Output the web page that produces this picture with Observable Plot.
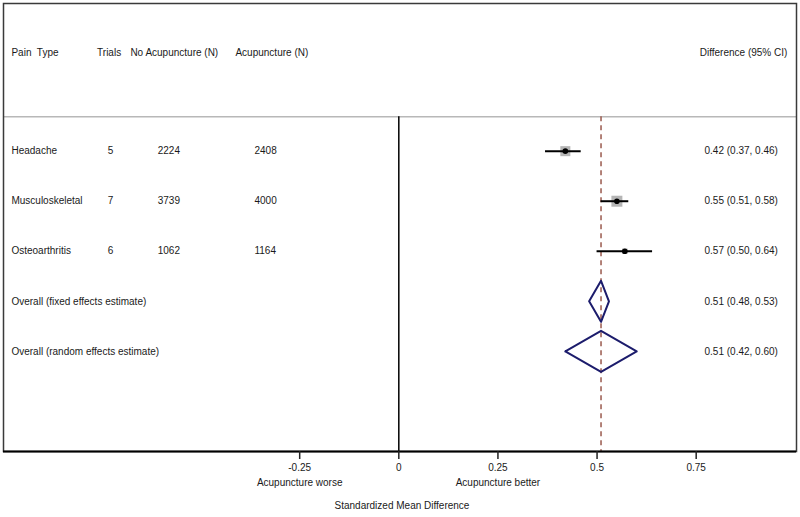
<!DOCTYPE html>
<html>
<head>
<meta charset="utf-8">
<script src="https://cdn.jsdelivr.net/npm/d3@7"></script>
<script src="https://cdn.jsdelivr.net/npm/@observablehq/plot@0.6"></script>
<style>
  html, body { margin: 0; padding: 0; background: #fff; }
  #chart svg { display: block; }
</style>
</head>
<body>
<div id="chart"></div>
<script>
// ---- data ----
const painTypes = ["Headache", "Musculoskeletal", "Osteoarthritis"];
const trials = [5, 7, 6];
const nNoAcupuncture = [2224, 3739, 1062];
const nAcupuncture = [2408, 4000, 1164];
const estimates = [0.42, 0.55, 0.57];
const lowerCI = [0.37, 0.51, 0.50];
const upperCI = [0.46, 0.58, 0.64];
const weights = [40, 48, 12];

const pooledLabels = ["Overall (fixed effects estimate)", "Overall (random effects estimate)"];
const pooledEst = [0.51, 0.51];
const pooledLower = [0.48, 0.42];
const pooledUpper = [0.53, 0.60];

const headers = ["Pain  Type", "Trials", "No Acupuncture (N)", "Acupuncture (N)", "Difference (95% CI)"];
const tickValues = [-0.25, 0, 0.25, 0.5, 0.75];
const tickLabels = ["-0.25", "0", "0.25", "0.5", "0.75"];
const sideLabels = ["Acupuncture worse", "Acupuncture better"];
const sideLabelAt = [-0.25, 0.25];
const axisTitle = "Standardized Mean Difference";
const referenceValue = 0.51;

// ---- layout constants (x in data units of the [-1, 1] frame) ----
const colPain = -0.977, colTrials = -0.734, colNo = -0.608, colAcu = -0.364, colCI = 0.771;
const hdrX = [-0.977, -0.761, -0.677, -0.412, 0.98];
const hdrAnchor = ["start", "start", "start", "start", "end"];
const headerRow = -1.97, headerLine = -0.69, bottomRow = 6;
const diamondHalf = 0.41;

const fmt = v => v.toFixed(2);
const studies = painTypes.map((p, i) => ({
  row: i, label: p, trials: trials[i], n0: nNoAcupuncture[i], n1: nAcupuncture[i],
  est: estimates[i], lo: lowerCI[i], hi: upperCI[i], w: weights[i],
  ci: `${fmt(estimates[i])} (${fmt(lowerCI[i])}, ${fmt(upperCI[i])})`
}));
const pooled = pooledLabels.map((p, i) => ({
  row: painTypes.length + i, label: p, est: pooledEst[i], lo: pooledLower[i], hi: pooledUpper[i],
  ci: `${fmt(pooledEst[i])} (${fmt(pooledLower[i])}, ${fmt(pooledUpper[i])})`
}));
const diamondPts = pooled.flatMap((d, k) => [
  {k, x: d.lo, y: d.row},
  {k, x: d.est, y: d.row - diamondHalf},
  {k, x: d.hi, y: d.row},
  {k, x: d.est, y: d.row + diamondHalf},
  {k, x: d.lo, y: d.row}
]);
const allRows = [...studies, ...pooled];
const headerData = headers.map((h, i) => ({h, x: hdrX[i], a: hdrAnchor[i]}));
const textColor = "#1a1a1a";

const chart = Plot.plot({
  width: 800,
  height: 517,
  marginLeft: 3,
  marginRight: 4,
  marginTop: 3,
  marginBottom: 66,
  x: {domain: [-0.997, 1.003]},
  y: {domain: [bottomRow, -2.95], axis: null},
  r: {type: "sqrt", domain: [0, 48], range: [0, 6.2]},
  style: {fontFamily: "'Liberation Sans', Arial, sans-serif", fontSize: "10px", background: "#fff", color: textColor},
  marks: [
    // header separator
    Plot.ruleY([headerLine], {stroke: "#b8b8b8", strokeWidth: 1.5}),
    // zero line
    Plot.ruleX([0], {y1: headerLine, y2: bottomRow, stroke: "#000", strokeWidth: 1.5}),
    // reference dashed line
    Plot.ruleX([referenceValue], {y1: headerLine, y2: bottomRow, stroke: "#9a5a4e", strokeWidth: 1.5, strokeDasharray: "5,4"}),
    // weight squares
    Plot.dot(studies, {x: "est", y: "row", r: "w", symbol: "square", fill: "#b5b5b5", stroke: "none"}),
    // CI lines
    Plot.ruleY(studies, {y: "row", x1: "lo", x2: "hi", stroke: "#000", strokeWidth: 2}),
    // point estimates
    Plot.dot(studies, {x: "est", y: "row", r: 2.8, fill: "#000", stroke: "none"}),
    // pooled diamonds
    Plot.line(diamondPts, {x: "x", y: "y", z: "k", stroke: "#1c1c6c", strokeWidth: 2, fill: "none", curve: "linear"}),
    // header text
    Plot.text(headerData.filter(d => d.a === "start"), {x: "x", y: () => headerRow, text: "h", textAnchor: "start", fill: textColor}),
    Plot.text(headerData.filter(d => d.a === "end"), {x: "x", y: () => headerRow, text: "h", textAnchor: "end", fill: textColor}),
    // table columns
    Plot.text(allRows, {x: () => colPain, y: "row", text: "label", textAnchor: "start", fill: textColor}),
    Plot.text(studies, {x: () => colTrials, y: "row", text: d => String(d.trials), textAnchor: "start", fill: textColor}),
    Plot.text(studies, {x: () => colNo, y: "row", text: d => String(d.n0), textAnchor: "start", fill: textColor}),
    Plot.text(studies, {x: () => colAcu, y: "row", text: d => String(d.n1), textAnchor: "start", fill: textColor}),
    Plot.text(allRows, {x: () => colCI, y: "row", text: "ci", textAnchor: "start", fill: textColor}),
    // frame and axis
    Plot.frame({stroke: "#3a3a3a", strokeWidth: 1.5}),
    Plot.ruleY([bottomRow], {stroke: "#000", strokeWidth: 2}),
    Plot.axisX({ticks: tickValues, tickFormat: d => tickLabels[tickValues.indexOf(d)], tickSize: 8, tickPadding: 4, label: null, stroke: "#222", strokeWidth: 1.5, fill: textColor}),
    Plot.text(sideLabels, {x: (d, i) => sideLabelAt[i], frameAnchor: "bottom", dy: 34, text: d => d, fill: textColor}),
    Plot.text([axisTitle], {x: () => 0.008, frameAnchor: "bottom", dy: 57, text: d => d, fill: textColor})
  ]
});
document.getElementById("chart").appendChild(chart);
</script>
</body>
</html>
